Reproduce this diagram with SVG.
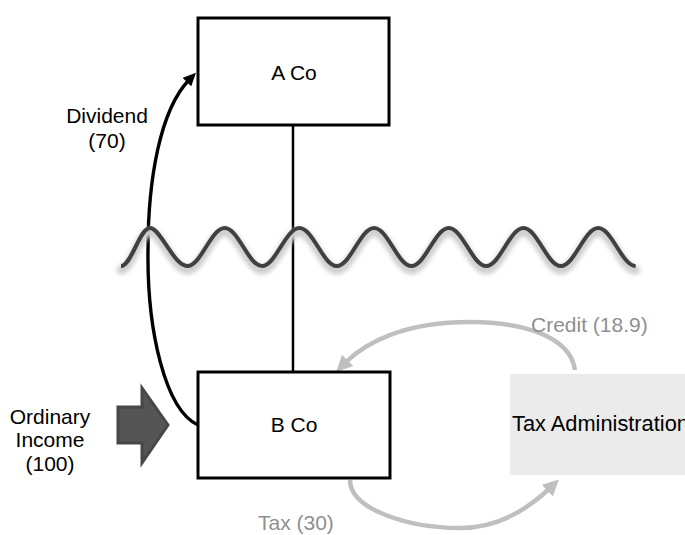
<svg xmlns="http://www.w3.org/2000/svg" width="685" height="535" viewBox="0 0 685 535">
<style>
.box{fill:#fff;stroke:#000;stroke-width:3}
.lbl{font-family:"Liberation Sans",Arial,sans-serif;font-size:21px;fill:#000}
.glbl{font-family:"Liberation Sans",Arial,sans-serif;font-size:21px;fill:#8f8f8f}
.mid{text-anchor:middle}
.gray{fill:none;stroke:#bfbfbf;stroke-width:4.5}
.blk{fill:none;stroke:#000;stroke-width:3.4}
</style>
<defs>
<marker id="gah" viewBox="0 0 16 16" refX="3" refY="8" markerWidth="16" markerHeight="16" markerUnits="userSpaceOnUse" orient="auto">
<path d="M0,0 L16,8 L0,16 z" fill="#bfbfbf"/>
</marker>
<marker id="bah" viewBox="0 0 13 12" refX="3" refY="6" markerWidth="13" markerHeight="12" markerUnits="userSpaceOnUse" orient="auto">
<path d="M0,0 L13,6 L0,12 z" fill="#000"/>
</marker>
<filter id="blur" x="-5%" y="-30%" width="110%" height="160%">
<feGaussianBlur stdDeviation="2"/>
</filter>
<path id="wavep" d="M121,266 C131.5,266 139.5,228 150,228 S173.8,266 187.35,266 S211.1,228 224.7,228 S248.5,266 262,266 S285.8,228 299.4,228 S323.2,266 336.75,266 S360.5,228 374.1,228 S397.9,266 411.45,266 S435.2,228 448.8,228 S472.6,266 486.15,266 S509.9,228 523.5,228 S547.3,266 560.85,266 S584.6,228 598.2,228 S622,266 635.6,266"/>
</defs>
<rect width="685" height="535" fill="#fff"/>

<g id="connectors">
<line x1="293" y1="125" x2="293" y2="372" stroke="#000" stroke-width="2.5"/>
<path class="blk" d="M198,425 C165,410 147,330 148,250 C148,180 160,110 189,80" marker-end="url(#bah)"/>
<path class="gray" d="M575,370 C570,335 520,322 470,322 C405,322 366,342 345.5,362.5" marker-end="url(#gah)"/>
<path class="gray" d="M350,480 C350,510 410,528 460,528 C500,528 530,507 549.5,488.5" marker-end="url(#gah)"/>
</g>

<g id="wave">
<use href="#wavep" fill="none" stroke="#cfcfcf" stroke-width="9" stroke-linecap="round" transform="translate(0,4)" filter="url(#blur)"/>
<use href="#wavep" fill="none" stroke="#404040" stroke-width="4"/>
</g>

<g id="aco">
<rect class="box" x="198" y="18" width="191" height="107"/>
<text class="lbl mid" x="294" y="80">A Co</text>
</g>

<g id="bco">
<rect class="box" x="198" y="372" width="192" height="106"/>
<text class="lbl mid" x="294" y="432">B Co</text>
</g>

<g id="taxadmin">
<rect x="510" y="374" width="180" height="101" fill="#ebebeb"/>
<text class="lbl" x="512" y="431" style="font-size:21.8px">Tax Administration</text>
</g>

<g id="income">
<polygon points="118,407 142,407 142,388 168,425 142,463 142,443 118,443" fill="#555" stroke="#474747" stroke-width="3" stroke-linejoin="miter"/>
<text class="lbl mid" x="50" y="424">Ordinary</text>
<text class="lbl mid" x="50" y="447">Income</text>
<text class="lbl mid" x="50" y="471">(100)</text>
</g>

<g id="labels">
<text class="lbl mid" x="107" y="123">Dividend</text>
<text class="lbl mid" x="107" y="148">(70)</text>
<text class="glbl" x="531" y="332">Credit (18.9)</text>
<text class="glbl" x="258" y="530">Tax (30)</text>
</g>
</svg>
